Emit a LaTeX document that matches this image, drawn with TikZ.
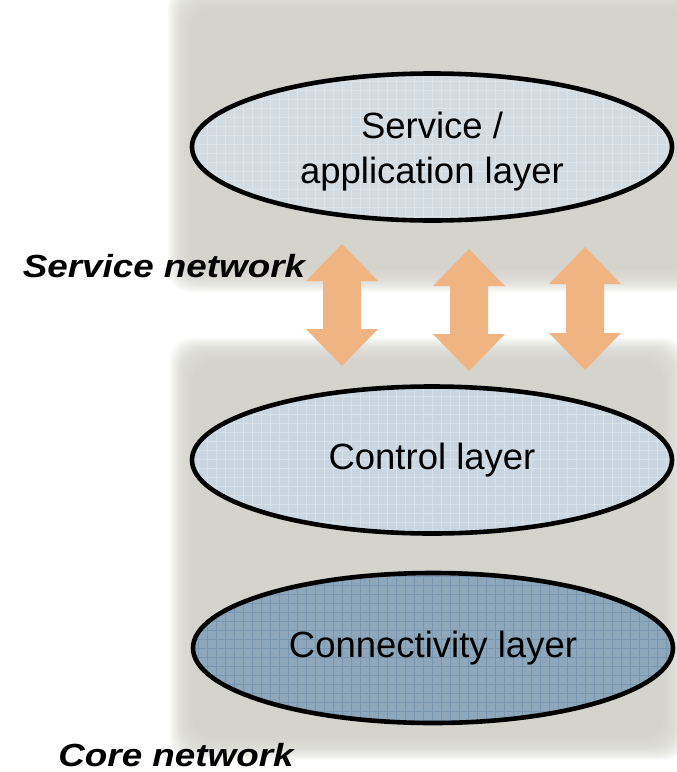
\documentclass[tikz,border=0pt]{standalone}
\usepackage{fontspec}
\setmainfont{Liberation Sans}
\usetikzlibrary{shapes.geometric}
\definecolor{panelgrey}{HTML}{D4D3CC}
\definecolor{lightfill}{HTML}{D3DBE2}
\definecolor{midfill}{HTML}{C9D6E1}
\definecolor{darkfill}{HTML}{8FA7BA}
\definecolor{gridlight}{HTML}{E2E9EF}
\definecolor{griddark}{HTML}{6A8BA8}
\definecolor{arroworange}{HTML}{F0B483}
\tikzset{
  layer/.style={ellipse, draw=black, line width=4.6pt, inner sep=0pt,
    minimum width=480pt, minimum height=147pt, align=center,
    font=\fontsize{36.5}{45}\selectfont},
  netlabel/.style={font=\fontsize{32}{38}\selectfont\bfseries\itshape, inner sep=0pt,
    xscale=1.15},
  updown/.style={fill=arroworange, draw=none},
}
% soft-edged grey panel: stacked translucent fills give a blurred border
\newcommand\softpanel[4]{%
  \foreach \k in {0,...,23}{%
    \fill[panelgrey, opacity=0.1, rounded corners=22pt]
      ({#1+\k*1.2}, {#2+\k*1.2}) rectangle ({#3-\k*1.2}, {#4-\k*1.2});
  }%
  \fill[panelgrey, rounded corners=10pt] ({#1+28}, {#2+28}) rectangle ({#3-28}, {#4-28});
}
% vertical double-headed block arrow: centre x, top y, bottom y
\newcommand\blockarrow[3]{%
  \fill[updown] (#1,#2) -- ({#1+36},{#2+37}) -- ({#1+19},{#2+37}) -- ({#1+19},{#3-37})
    -- ({#1+36},{#3-37}) -- (#1,#3) -- ({#1-36},{#3-37}) -- ({#1-19},{#3-37})
    -- ({#1-19},{#2+37}) -- ({#1-36},{#2+37}) -- cycle;
}
\begin{document}
\begin{tikzpicture}[x=1pt, y=-1pt]
\useasboundingbox (0,0) rectangle (677,772);
\fill[white] (0,0) rectangle (677,772);

% background panels
\softpanel{168}{-14}{712}{292}
\softpanel{170}{338}{686}{760}

% ellipse centres
\coordinate (csvc) at (432,147);
\coordinate (cctl) at (432,460);
\coordinate (ccon) at (433,648);

% fills with a fine grid texture
\fill[lightfill] (csvc) ellipse (240pt and 73.5pt);
\fill[midfill] (cctl) ellipse (240pt and 73.5pt);
\fill[darkfill] (ccon) ellipse (240pt and 75pt);
\begin{scope}
  \clip (csvc) ellipse (240pt and 73.5pt);
  \draw[gridlight, line width=0.5pt, step=9pt, opacity=0.6] (190,70) grid (680,225);
\end{scope}
\begin{scope}
  \clip (cctl) ellipse (240pt and 73.5pt);
  \draw[gridlight, line width=0.5pt, step=9pt, opacity=0.6] (190,385) grid (680,535);
\end{scope}
\begin{scope}
  \clip (ccon) ellipse (240pt and 75pt);
  \draw[griddark, line width=0.6pt, step=9pt, opacity=0.6] (190,570) grid (680,725);
\end{scope}

% layer ellipses with their labels
\node[layer] (svc) at (csvc)
  {\raisebox{-5pt}[\height][\depth]{Service /}\\\raisebox{-5pt}[\height][\depth]{application layer}};
\node[layer] (ctl) at (cctl) {Control layer};
\node[layer, minimum height=150pt] (con) at (ccon) {Connectivity layer};

% exchange arrows between the service and control layers
\blockarrow{342}{244}{366}
\blockarrow{469}{249}{371}
\blockarrow{585}{247}{370}

% network labels
\node[netlabel] (sn) at (164,266) {Service network};
\node[netlabel] (cn) at (176,755) {Core network};
\end{tikzpicture}
\end{document}
